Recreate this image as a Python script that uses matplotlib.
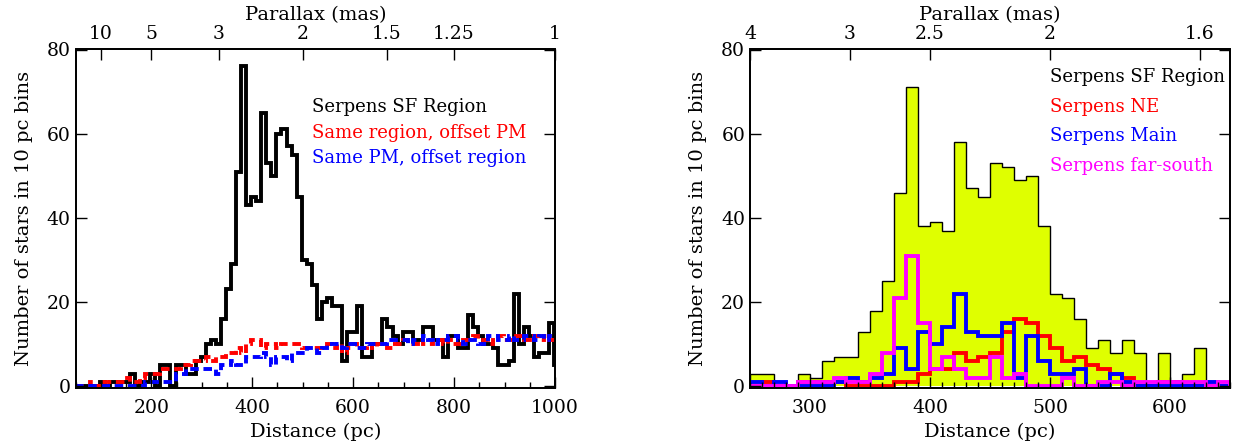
import numpy as np
import matplotlib
matplotlib.use("Agg")
from matplotlib import pyplot as plt
from matplotlib.ticker import MultipleLocator

plt.rcParams['font.family'] = ['DejaVu Serif']

# ---- left panel: 10 pc bins, edges 48 ... 1008 pc
left_edges = np.arange(48, 1009, 10)
sf_counts = [0, 0, 0, 0, 0, 1, 0, 1, 1, 1,
             1, 3, 0, 1, 1, 3, 0, 5, 5, 0,
             5, 5, 3, 3, 6, 7, 10, 11, 10, 16,
             23, 29, 51, 76, 43, 45, 44, 65, 53, 50,
             60, 61, 57, 55, 45, 30, 29, 24, 16, 20,
             21, 19, 19, 6, 13, 13, 19, 7, 7, 10,
             10, 16, 14, 12, 10, 13, 13, 11, 11, 14,
             14, 11, 11, 7, 12, 12, 9, 9, 17, 14,
             12, 10, 10, 9, 5, 5, 6, 22, 10, 14,
             12, 7, 8, 8, 15, 5]
offpm_counts = [0, 0, 0, 1, 0, 1, 1, 1, 1, 1,
                2, 1, 1, 2, 3, 3, 3, 4, 4, 4,
                4, 5, 5, 6, 6, 6, 7, 6, 7, 7,
                8, 8, 9, 8, 10, 11, 11, 9, 10, 10,
                9, 10, 10, 10, 10, 9, 9, 9, 9, 9,
                10, 9, 10, 8, 9, 10, 9, 9, 10, 9,
                10, 10, 9, 10, 10, 11, 10, 10, 11, 10,
                10, 11, 11, 10, 11, 10, 10, 11, 11, 12,
                11, 11, 10, 11, 12, 11, 11, 12, 12, 11,
                11, 12, 11, 12, 11, 12]
offreg_counts = [0, 0, 0, 0, 0, 0, 0, 0, 0, 0,
                 0, 0, 0, 0, 1, 1, 1, 1, 1, 1,
                 3, 3, 4, 4, 4, 4, 4, 4, 3, 5,
                 5, 6, 5, 5, 7, 7, 7, 8, 7, 5,
                 7, 7, 6, 8, 8, 8, 9, 9, 8, 9,
                 10, 10, 10, 9, 10, 10, 9, 9, 10, 10,
                 10, 10, 11, 11, 11, 11, 10, 11, 11, 12,
                 11, 10, 11, 11, 12, 12, 11, 10, 11, 11,
                 10, 10, 12, 12, 11, 11, 12, 11, 11, 12,
                 12, 11, 12, 11, 12, 12]

# ---- right panel: 10 pc bins, edges 250 ... 650 pc
right_edges = np.arange(250, 651, 10)
sf_fill = [3, 3, 0, 0, 3, 2, 6, 7, 7, 13,
           18, 25, 46, 71, 38, 39, 37, 58, 47, 45,
           53, 52, 49, 50, 38, 22, 21, 16, 9, 11,
           8, 11, 8, 0, 8, 0, 3, 9, 0, 0]
ne_counts = [0, 1, 0, 0, 1, 1, 1, 1, 0, 0,
             0, 0, 1, 1, 3, 4, 4, 8, 6, 7,
             8, 13, 16, 15, 12, 9, 6, 7, 5, 4,
             3, 2, 0, 0, 1, 1, 0, 0, 0, 0]
main_counts = [1, 0, 1, 0, 0, 0, 0, 1, 2, 1,
               2, 3, 9, 4, 13, 10, 14, 22, 13, 12,
               12, 15, 2, 12, 6, 3, 3, 4, 0, 0,
               3, 1, 0, 0, 0, 0, 0, 0, 1, 0]
south_counts = [0, 0, 0, 0, 1, 1, 1, 2, 1, 1,
                3, 8, 21, 31, 15, 4, 7, 4, 2, 2,
                7, 2, 3, 0, 0, 0, 2, 0, 0, 1,
                1, 0, 1, 1, 1, 1, 1, 1, 0, 1]

left_plx = [10, 5, 3, 2, 1.5, 1.25, 1]
left_plx_labels = ['10', '5', '3', '2', '1.5', '1.25', '1']
right_plx = [4, 3, 2.5, 2, 1.6]
right_plx_labels = ['4', '3', '2.5', '2', '1.6']

left_names = ['Serpens SF Region', 'Same region, offset PM', 'Same PM, offset region']
left_colors = ['black', 'red', 'blue']
right_names = ['Serpens SF Region', 'Serpens NE', 'Serpens Main', 'Serpens far-south']
right_colors = ['black', 'red', 'blue', 'magenta']

W, H = 1234, 446
fig = plt.figure(figsize=(W / 100, H / 100), dpi=100)


def style_axes(ax, xlim, xmajor, xminor):
    ax.set_xlim(*xlim)
    ax.set_ylim(-0.4, 80)
    ax.xaxis.set_major_locator(MultipleLocator(xmajor))
    ax.xaxis.set_minor_locator(MultipleLocator(xminor))
    ax.yaxis.set_major_locator(MultipleLocator(20))
    ax.yaxis.set_minor_locator(MultipleLocator(5))
    ax.tick_params(which='both', direction='in', right=True, top=False,
                   width=1.0, labelsize=13.5)
    ax.tick_params(which='major', length=8)
    ax.tick_params(which='minor', length=4)
    ax.tick_params(axis='x', pad=8)
    for s in ax.spines.values():
        s.set_linewidth(1.3)
    ax.set_xlabel('Distance (pc)', fontsize=14, labelpad=4)
    ax.set_ylabel('Number of stars in 10 pc bins', fontsize=14, labelpad=10)


def add_parallax(ax, plx, labels):
    top = ax.twiny()
    top.set_xlim(ax.get_xlim())
    top.set_xticks([1000.0 / p for p in plx])
    top.set_xticklabels(labels)
    top.tick_params(direction='in', length=8, width=1.0, labelsize=13.5, pad=5)
    top.minorticks_off()
    top.set_xlabel('Parallax (mas)', fontsize=14, labelpad=3)
    for s in top.spines.values():
        s.set_linewidth(1.3)


# left panel
ax1 = fig.add_axes([75.6 / W, 1 - 388 / H, 479.4 / W, 338.5 / H])
ax1.stairs(sf_counts, left_edges, color='black', lw=2.8)
ax1.stairs(offpm_counts, left_edges, color='red', lw=2.8, linestyle=(0, (2.2, 1.2)))
ax1.stairs(offreg_counts, left_edges, color='blue', lw=2.8, linestyle=(0, (2.2, 1.2)))
style_axes(ax1, (50, 1000), 200, 50)
add_parallax(ax1, left_plx, left_plx_labels)
for i, (txt, col) in enumerate(zip(left_names, left_colors)):
    fig.text(312 / W, 1 - (107 + 25.5 * i) / H, txt, color=col, fontsize=13,
             va='center', ha='left')

# right panel
ax2 = fig.add_axes([750 / W, 1 - 388 / H, 480 / W, 338.5 / H])
ax2.stairs(sf_fill, right_edges, fill=True, color='#dfff00', lw=0)
ax2.stairs(sf_fill, right_edges, color='black', lw=1.0)
ax2.stairs(ne_counts, right_edges, color='red', lw=2.8)
ax2.stairs(main_counts, right_edges, color='blue', lw=2.8)
ax2.stairs(south_counts, right_edges, color='magenta', lw=2.8)
style_axes(ax2, (250, 650), 100, 10)
add_parallax(ax2, right_plx, right_plx_labels)
for i, (txt, col) in enumerate(zip(right_names, right_colors)):
    fig.text(1050 / W, 1 - (77 + 29.7 * i) / H, txt, color=col, fontsize=13,
             va='center', ha='left')

fig.savefig('out.png', dpi=100)
